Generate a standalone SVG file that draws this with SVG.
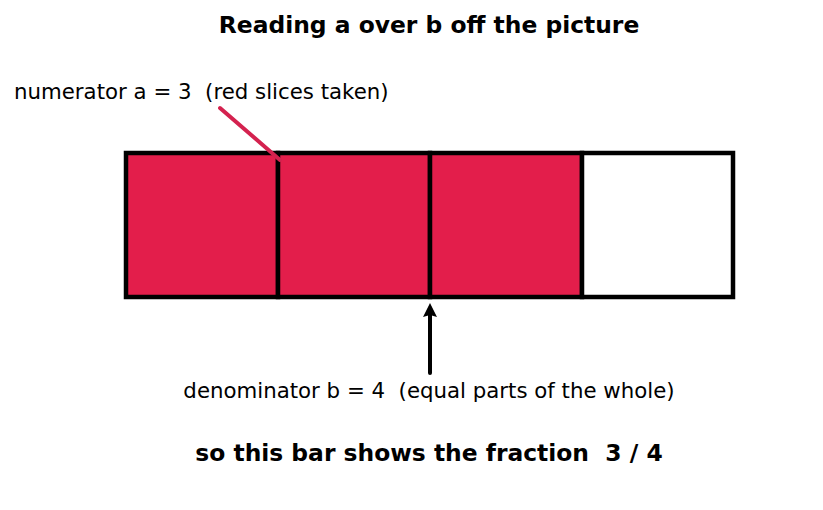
<svg xmlns="http://www.w3.org/2000/svg" width="823" height="510" viewBox="0 0 823 510">
<style>
.t{font-family:"DejaVu Sans","Liberation Sans",sans-serif;fill:#000;white-space:pre}
.b{font-weight:bold;font-size:23.4px}
.n{font-size:21.3px}
.cell{stroke:#000;stroke-width:4.5}
.red{fill:#E31E4B}
</style>
<defs>
<marker id="ah" viewBox="0 0 14 14" refX="2" refY="7" markerWidth="14" markerHeight="14" markerUnits="userSpaceOnUse" orient="auto">
<path d="M0,0 L14,7 L0,14 L2,7 z" fill="#000"/>
</marker>
</defs>
<rect width="823" height="510" fill="#fff"/>
<text class="t b" x="429" y="33" text-anchor="middle">Reading a over b off the picture</text>
<g id="bar">
<rect id="c1" class="cell red" x="126" y="153" width="152" height="144"/>
<rect id="c2" class="cell red" x="278" y="153" width="152" height="144"/>
<rect id="c3" class="cell red" x="430" y="153" width="152" height="144"/>
<rect id="c4" class="cell" fill="#fff" x="582" y="153" width="151" height="144"/>
</g>
<g id="numerator-label"><text class="t n" x="14" y="99" xml:space="preserve">numerator a = 3  (red slices taken)</text></g>
<g id="denominator-label"><text class="t n" x="429" y="398" text-anchor="middle" xml:space="preserve">denominator b = 4  (equal parts of the whole)</text></g>
<g id="connectors">
<line x1="430" y1="373" x2="430" y2="315" stroke="#000" stroke-width="4" stroke-linecap="round" marker-end="url(#ah)"/>
<line x1="220" y1="108" x2="280" y2="160" stroke="#D4224F" stroke-width="4" stroke-linecap="round"/>
</g>
<text class="t b" x="429" y="461" text-anchor="middle" xml:space="preserve">so this bar shows the fraction  3 / 4</text>
</svg>
